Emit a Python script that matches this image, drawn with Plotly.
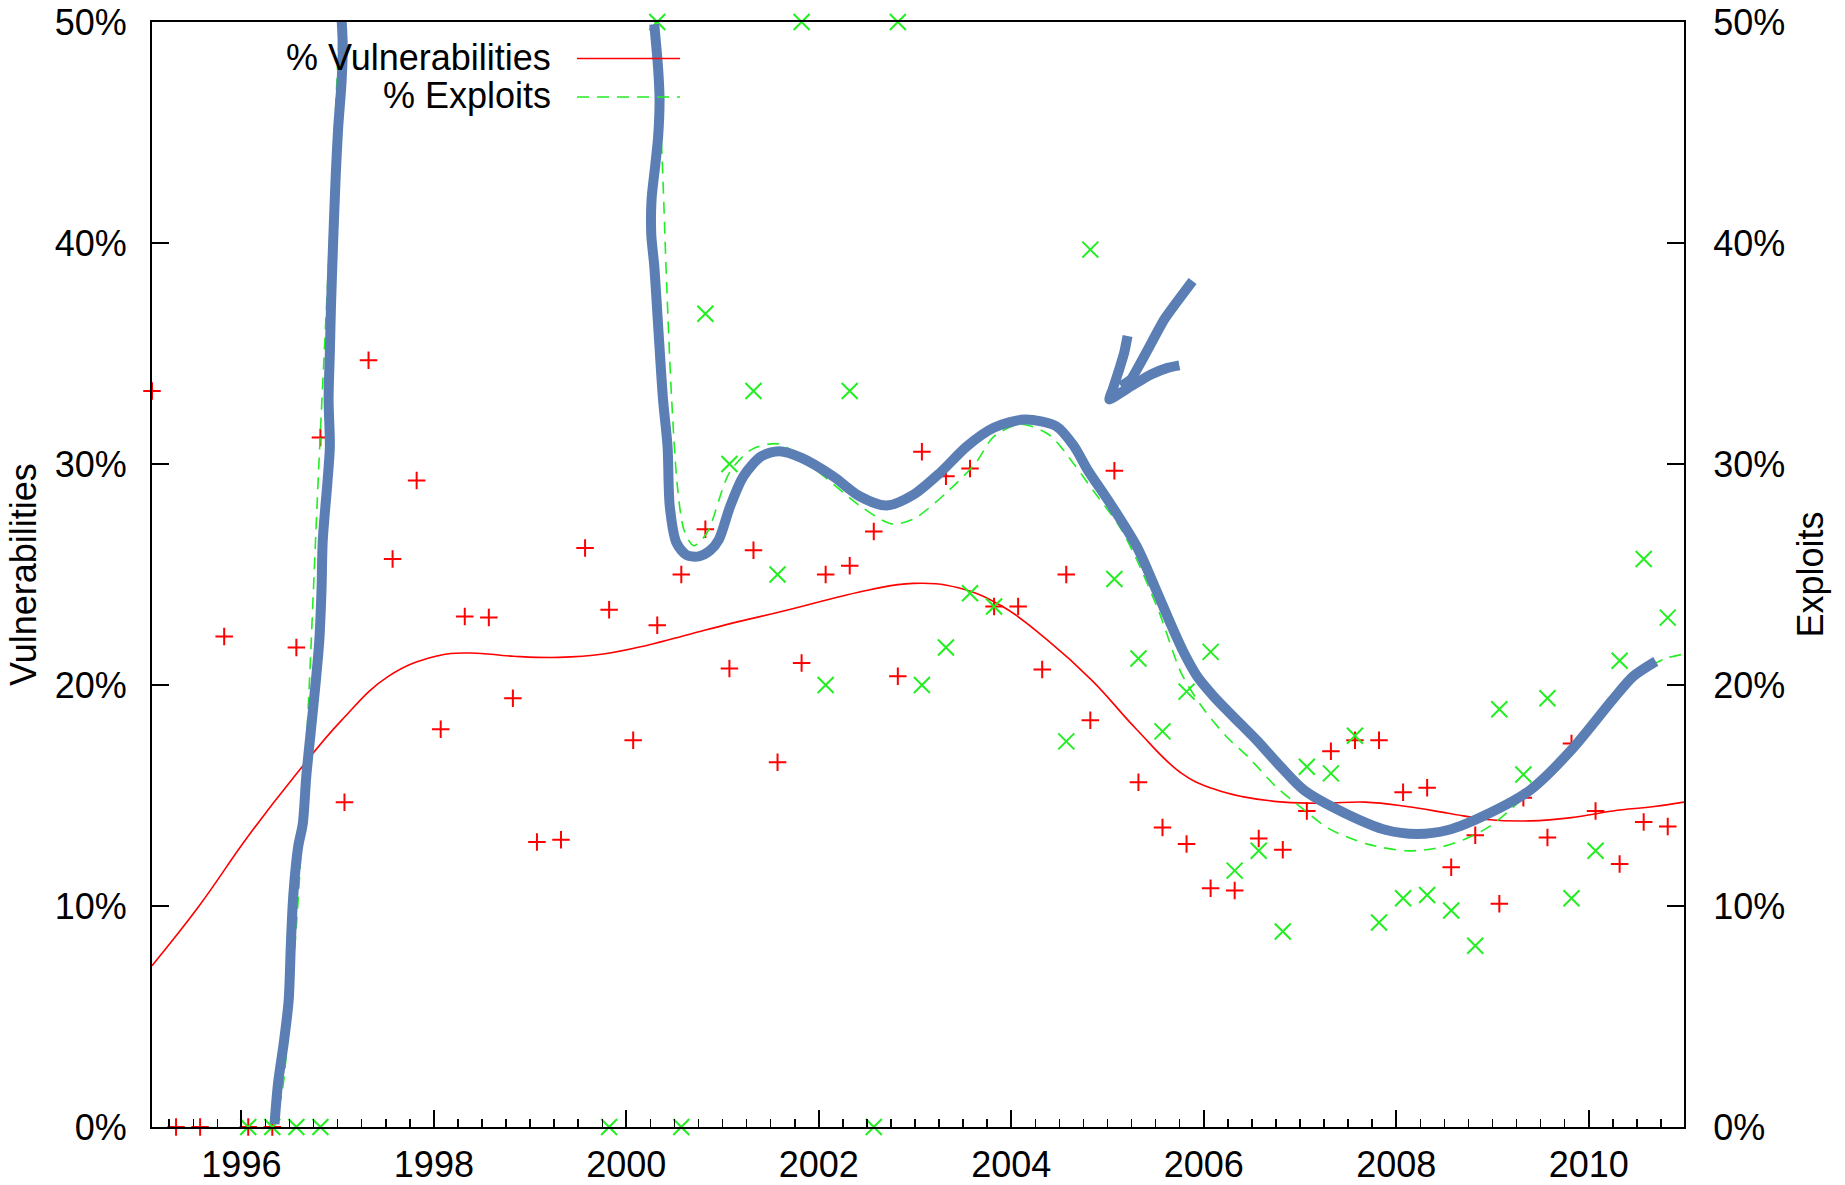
import plotly.graph_objects as go

# ---------------- data ----------------
# quarterly observations, first quarter sits on the left border of the plot
start_year = 1995.071
n_quarters = 64
quarter_x = [start_year + 0.25 * i for i in range(n_quarters)]

vuln_pct = [
    33.3, 0, 0, 22.2, 0, 0, 21.7, 31.2, 14.7, 34.7,
    25.7, 29.25, 18.0, 23.1, 23.05, 19.4, 12.9, 13.0, 26.2, 23.4,
    17.5, 22.7, 25.0, 27.05, 20.75, 26.1, 16.5, 21.0, 25.0, 25.4,
    26.95, 20.4, 30.55, 29.45, 29.8, 23.55, 23.55, 20.7, 25.0, 18.4,
    29.7, 15.6, 13.55, 12.8, 10.8, 10.7, 13.05, 12.55, 14.3, 17.0,
    17.5, 17.5, 15.15, 15.35, 11.75, 13.2, 10.1, 14.9, 13.1, 17.35,
    14.3, 11.9, 13.8, 13.6,
]

exploit_pct = [
    None, None, None, None, 0, 0, 0, 0, None, None,
    None, None, None, None, None, None, None, None, None, 0,
    None, 50, 0, 36.8, 30.0, 33.3, 25.0, 50, 20.0, 33.3,
    0, 50, 20.0, 21.7, 24.15, 23.55, None, None, 17.45, 39.7,
    24.8, 21.2, 17.9, 19.7, 21.5, 11.6, 12.5, 8.85, 16.3, 16.0,
    17.7, 9.25, 10.35, 10.5, 9.8, 8.2, 18.9, 15.95, 19.4, 10.35,
    12.5, 21.1, 25.7, 23.05,
]

# smoothed trend of % vulnerabilities
vuln_trend_x = [1995.071, 1995.56, 1996.06, 1996.55, 1997.04, 1997.53, 1998.02,
                1998.37, 1998.83, 1999.30, 1999.76, 2000.22, 2000.66, 2001.10, 2001.59,
                2002.52, 2002.98, 2003.45, 2003.91, 2004.37, 2004.84, 2005.30, 2005.77,
                2006.10, 2006.40, 2006.83, 2007.25, 2007.68, 2008.11, 2008.54, 2008.97,
                2009.39, 2009.82, 2010.25, 2010.68, 2010.99]
vuln_trend_y = [7.3, 10.0, 13.1, 15.86, 18.4, 20.4, 21.3,
                21.45, 21.3, 21.25, 21.4, 21.8, 22.3, 22.8, 23.3,
                24.3, 24.6, 24.4, 23.55, 22.05, 20.2, 18.0, 16.0,
                15.3, 14.95, 14.7, 14.65, 14.7, 14.5, 14.2, 13.9,
                13.85, 14.0, 14.3, 14.5, 14.7]

# smoothed trend of % exploits (runs off the top of the chart in between)
exploit_trend_x = [1996.33, 1996.42, 1996.50, 1996.60, 1996.70, 1996.80, 1996.91, 1997.02,
                   None,
                   2000.30, 2000.37, 2000.42, 2000.47, 2000.53, 2000.60, 2000.70, 2000.84,
                   2001.07, 2001.30, 2001.59, 2002.05, 2002.43, 2002.75, 2002.98, 2003.35,
                   2003.63, 2003.82, 2004.10, 2004.40, 2004.65, 2004.85, 2005.12, 2005.30,
                   2005.54, 2005.77, 2006.00, 2006.25, 2006.46, 2006.75, 2007.00, 2007.30,
                   2007.70, 2008.10, 2008.40, 2008.70, 2008.97, 2009.30, 2009.60, 2009.90,
                   2010.20, 2010.50, 2010.80, 2010.99]
exploit_trend_y = [0.0, 1.5, 5.0, 11.0, 19.5, 29.5, 39.5, 50.0,
                   None,
                   50.0, 44.0, 38.0, 33.0, 29.0, 27.0, 26.3, 26.9,
                   29.6, 30.65, 30.9, 29.45, 28.1, 27.3, 27.5, 28.8,
                   30.05, 31.25, 31.8, 31.3, 30.0, 28.8, 27.2, 25.7,
                   23.25, 20.5, 18.9, 17.6, 16.75, 15.4, 14.5, 13.5,
                   12.8, 12.5, 12.6, 13.0, 13.6, 14.8, 16.1, 17.7,
                   19.3, 20.5, 21.2, 21.4]

# hand-drawn highlight stroke over the exploit trend
mark_x = [1996.344, 1996.381, 1996.442, 1996.491, 1996.515, 1996.540, 1996.589, 1996.638,
          1996.674, 1996.723, 1996.772, 1996.809, 1996.833, 1996.845, 1996.894, 1996.919,
          1996.906, 1996.919, 1996.931, 1996.956, 1996.980, 1997.005, 1997.041, 1997.053,
          1997.041,
          None,
          2000.290, 2000.330, 2000.345, 2000.330, 2000.300, 2000.262, 2000.259, 2000.290,
          2000.335, 2000.381, 2000.428, 2000.451, 2000.521, 2000.626, 2000.753, 2000.871,
          2000.961, 2001.079, 2001.217, 2001.403, 2001.589, 2001.820, 2002.146, 2002.424,
          2002.703, 2002.982, 2003.259, 2003.538, 2003.817, 2004.141, 2004.467, 2004.653,
          2004.791, 2005.024, 2005.303, 2005.489, 2005.673, 2005.800, 2005.930, 2006.100,
          2006.300, 2006.550, 2006.800, 2007.040, 2007.468, 2007.895, 2008.217, 2008.538,
          2008.966, 2009.393, 2009.820, 2010.248, 2010.462, 2010.697]
mark_y = [0.13, 1.99, 3.86, 5.73, 8.40, 10.53, 12.66, 13.73,
          15.86, 17.99, 20.12, 21.99, 24.39, 26.52, 29.18, 30.78,
          32.91, 35.05, 37.18, 40.38, 43.04, 45.18, 47.31, 48.91,
          50.13,
          None,
          49.9, 47.9, 46.5, 44.8, 43.5, 41.98, 40.38, 38.96,
          35.94, 32.92, 30.80, 28.09, 26.43, 25.88, 25.82, 26.09,
          26.58, 28.09, 29.45, 30.35, 30.58, 30.28, 29.45, 28.54,
          28.12, 28.61, 29.60, 30.80, 31.64, 32.01, 31.71, 30.80,
          29.75, 28.24, 26.27, 24.46, 22.60, 21.40, 20.40, 19.50,
          18.60, 17.50, 16.30, 15.25, 14.20, 13.44, 13.26, 13.44,
          14.20, 15.25, 17.06, 19.33, 20.39, 21.07]

# hand-drawn arrow (shaft, then the two barbs through the tip)
arrow_x = [2005.884, 2005.589, 2005.243, 2005.139, None,
           2005.208, 2005.173, 2005.121, 2005.053, 2005.018, 2005.243, 2005.451, 2005.624, 2005.746]
arrow_y = [38.28, 36.54, 33.83, 33.52, None,
           35.79, 35.03, 34.28, 33.37, 32.92, 33.52, 34.05, 34.35, 34.46]

x_range = [1995.071, 2010.99]
y_range = [0, 50]
legend_labels = ["% Vulnerabilities", "% Exploits"]
axis_titles = ["Vulnerabilities", "Exploits"]

# ---------------- styling ----------------
RED = "#ff0000"
GREEN = "#22ee22"
BLUE = "#5b7fb4"
FONT = "Liberation Sans, Arial, Helvetica, sans-serif"
FS = 36

W, H = 1845, 1185
L, R, T, B = 152, 161, 22, 58

fig = go.Figure()

fig.add_trace(go.Scatter(x=vuln_trend_x, y=vuln_trend_y, mode="lines", yaxis="y",
                         line=dict(color=RED, width=1.6, shape="spline", smoothing=1.2),
                         name=legend_labels[0], showlegend=False, hoverinfo="skip"))
fig.add_trace(go.Scatter(x=exploit_trend_x, y=exploit_trend_y, mode="lines", yaxis="y2",
                         line=dict(color=GREEN, width=1.6, dash="12px,8px", shape="spline", smoothing=0.8),
                         connectgaps=False, name=legend_labels[1], showlegend=False, hoverinfo="skip"))
fig.add_trace(go.Scatter(x=quarter_x, y=vuln_pct, mode="markers", yaxis="y",
                         marker=dict(symbol="cross-thin", size=12.5, line=dict(color=RED, width=2)),
                         cliponaxis=False, showlegend=False))
fig.add_trace(go.Scatter(x=quarter_x, y=exploit_pct, mode="markers", yaxis="y2",
                         marker=dict(symbol="x-thin", size=16, line=dict(color=GREEN, width=2)),
                         cliponaxis=False, showlegend=False))
fig.add_trace(go.Scatter(x=mark_x, y=mark_y, mode="lines", yaxis="y2",
                         line=dict(color=BLUE, width=10, shape="spline", smoothing=0.8),
                         connectgaps=False, cliponaxis=False, showlegend=False, hoverinfo="skip"))
fig.add_trace(go.Scatter(x=arrow_x, y=arrow_y, mode="lines", yaxis="y2",
                         line=dict(color=BLUE, width=10, shape="spline", smoothing=0.4),
                         connectgaps=False, cliponaxis=False, showlegend=False, hoverinfo="skip"))

axis_common = dict(showgrid=False, zeroline=False, showline=True, linewidth=2, linecolor="black",
                   ticks="inside", ticklen=17, tickwidth=2, tickcolor="black", automargin=False,
                   ticklabeloverflow="allow",
                   tickfont=dict(family=FONT, size=FS, color="black"))

fig.update_layout(
    width=W, height=H,
    margin=dict(l=L, r=R, t=T, b=B, pad=0, autoexpand=False),
    paper_bgcolor="white", plot_bgcolor="white",
    font=dict(family=FONT, size=FS, color="black"),
    showlegend=False,
    xaxis=dict(range=x_range, tickmode="linear", tick0=1996, dtick=2, tickformat="d",
               mirror=True, ticklabelstandoff=5,
               minor=dict(ticks="inside", ticklen=8, tickwidth=1.5, tickcolor="black",
                          tickmode="linear", tick0=1996, dtick=0.25, showgrid=False),
               **axis_common),
    yaxis=dict(range=y_range, tickmode="linear", tick0=0, dtick=10, ticksuffix="%",
               ticklabelstandoff=16, **axis_common),
    yaxis2=dict(range=y_range, tickmode="linear", tick0=0, dtick=10, ticksuffix="%",
                overlaying="y", side="right", ticklabelstandoff=20, **axis_common),
)

pw, ph = W - L - R, H - T - B
def px_x(p):
    return (p - L) / pw
def px_y(p):
    return 1 - (p - T) / ph

# rotated axis titles
for title, xpix in zip(axis_titles, [23.5, 1810]):
    fig.add_annotation(x=px_x(xpix), y=0.5, xref="paper", yref="paper", text=title,
                       textangle=-90, showarrow=False, xanchor="center", yanchor="middle",
                       font=dict(family=FONT, size=FS, color="black"))

# gnuplot-style key: text right-aligned, sample line to its right
text_right = px_x(553)
samp0, samp1 = px_x(577), px_x(680)
rows = [57.5, 96.0]
styles = [dict(color=RED, width=1.6), dict(color=GREEN, width=1.6, dash="12px,8px")]
for label, row, st in zip(legend_labels, rows, styles):
    fig.add_annotation(x=text_right, y=px_y(row), xref="paper", yref="paper", text=label,
                       showarrow=False, xanchor="right", yanchor="middle",
                       font=dict(family=FONT, size=FS, color="black"))
    fig.add_shape(type="line", xref="paper", yref="paper", x0=samp0, x1=samp1,
                  y0=px_y(row + 1), y1=px_y(row + 1), line=st)

# remove the browser's default page margin so the figure fills the window exactly
fig.write_html("out.html", config={"displayModeBar": False, "staticPlot": True},
               post_script="document.body.style.margin='0';document.body.style.overflow='hidden';")
